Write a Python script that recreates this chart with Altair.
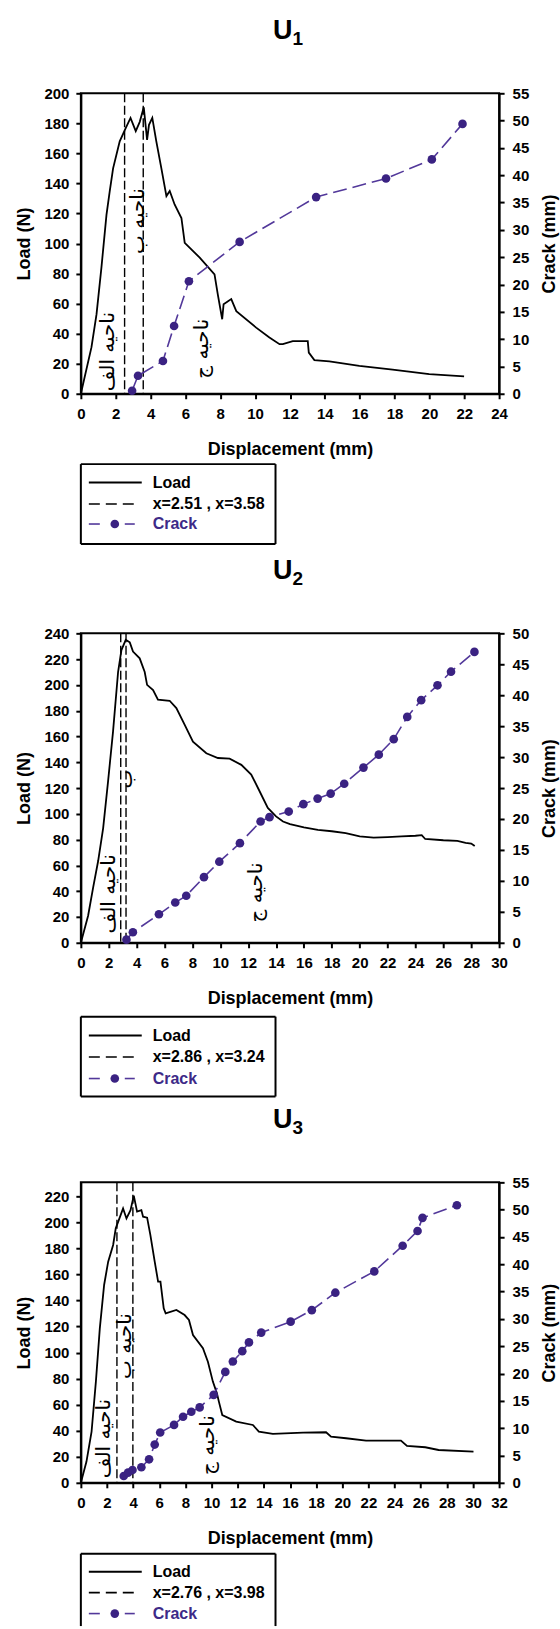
import altair as alt
import pandas as pd

# ---------------- data ----------------
# U1
u1_load_x = [0, 0.61, 0.90, 1.18, 1.47, 1.66, 1.85, 2.23, 2.58, 2.85, 3.15, 3.38, 3.61, 3.80, 3.91, 4.10,
             4.33, 4.62, 4.91, 5.10, 5.38, 5.77, 5.96, 6.82, 7.67, 7.86, 8.11, 8.19, 8.63, 8.92, 10.06,
             10.82, 11.40, 11.59, 12.16, 13.02, 13.08, 13.40, 14.26, 15.98, 17.89, 19.99, 21.99]
u1_load_y = [0, 31, 53, 84, 119, 135, 150, 168, 177, 183.6, 174.8, 181, 190.7, 169, 179, 183.6,
             168, 150, 131.6, 135, 126, 117, 100.5, 90.6, 79.5, 66, 49.6, 59.6, 63, 55, 44,
             37.4, 33, 33, 35, 35, 27.4, 22.4, 21.5, 18.6, 16, 13.1, 11.5]
u1_crack_x = [2.94, 3.28, 4.71, 5.35, 6.20, 9.11, 13.5, 17.51, 20.14, 21.9]
u1_crack_y = [0.55, 3.3, 6.0, 12.4, 20.6, 27.8, 36.0, 39.4, 42.9, 49.4]
u1_vlines = [2.51, 3.58]
u1_lbl_text = ["ناحیه الف", "ناحیه ب", "ناحیه ج"]
u1_lbl_x = [1.56, 3.28, 6.95]
u1_lbl_y = [28, 115, 30]

# U2
u2_load_x = [0, 0.52, 0.88, 1.24, 1.60, 1.95, 2.31, 2.67, 2.91, 3.22, 3.51, 3.74, 4.22, 4.58, 4.75, 5.18,
             5.53, 6.37, 6.85, 7.45, 8.04, 9.0, 9.83, 10.67, 11.51, 12.22, 12.82, 13.41, 14.0, 14.5,
             15.0, 16.0, 17.0, 18.0, 19.0, 20.0, 21.0, 22.0, 23.0, 24.0, 24.45, 24.7, 26.0, 27.0,
             27.6, 28.0, 28.25]
u2_load_y = [0, 21, 42.8, 63.4, 89, 125, 164, 210, 227, 234.9, 233, 225.8, 220.6, 210, 200, 196,
             188.5, 187.7, 182, 169, 156, 147, 143.3, 142.8, 138, 130.5, 117.5, 104.6, 98, 94,
             92, 89.5, 87.5, 86.5, 85, 82.5, 81.5, 82, 82.5, 83, 83.5, 80.5, 79.5, 79,
             77.5, 77, 75]
u2_crack_x = [3.27, 3.73, 5.6, 6.77, 7.56, 8.83, 9.93, 11.41, 12.89, 13.53, 14.91, 15.96, 16.98, 17.92,
              18.89, 20.27, 21.37, 22.44, 23.41, 24.41, 25.58, 26.55, 28.23]
u2_crack_y = [0.5, 1.7, 4.6, 6.5, 7.6, 10.6, 13.1, 16.1, 19.6, 20.3, 21.2, 22.4, 23.3, 24.1,
              25.7, 28.3, 30.4, 32.9, 36.5, 39.2, 41.6, 43.8, 47.0]
u2_vlines = [2.86, 3.24]
u2_lbl_text = ["ناحیه الف", "ب", "ناحیه ج"]
u2_lbl_x = [2.0, 3.23, 12.55]
u2_lbl_y = [38, 127, 39]

# U3
u3_load_x = [0, 0.43, 0.82, 1.15, 1.45, 1.78, 2.09, 2.47, 2.67, 3.23, 3.49, 3.80, 4.05, 4.30, 4.63, 4.76,
             5.07, 5.32, 5.65, 5.91, 6.09, 6.34, 6.49, 7.31, 7.94, 8.27, 8.58, 9.34, 9.72, 10.1, 10.41,
             10.56, 10.82, 11.89, 13.16, 13.62, 14.69, 17.0, 18.76, 19.14, 20.29, 21.82, 24.49, 24.95,
             26.35, 27.37, 30.04]
u3_load_y = [0, 16.3, 39.3, 77.7, 118.6, 151.9, 169.8, 182.6, 195.4, 210.7, 203, 209.4, 220.5, 208.2, 209.4, 204.3,
             203.6, 190.2, 169.8, 154.5, 154.5, 134, 130.1, 132.7, 128.8, 125, 113.5, 103.3, 93, 77.7, 68.7,
             62.3, 52, 47, 44.4, 39.3, 37.5, 38.5, 38.8, 35.5, 34.2, 32.4, 32.4, 28.3,
             27.3, 25.2, 24]
u3_crack_x = [3.28, 3.61, 3.95, 4.63, 5.22, 5.65, 6.07, 7.13, 7.82, 8.45, 9.09, 10.16, 11.05, 11.63, 12.35,
              12.86, 13.8, 16.05, 17.67, 19.47, 22.45, 24.62, 25.76, 26.14, 28.77]
u3_crack_y = [1.25, 1.86, 2.35, 2.84, 4.3, 7.0, 9.2, 10.6, 12.1, 13.0, 13.8, 16.1, 20.3, 22.2, 24.1,
              25.7, 27.5, 29.5, 31.6, 34.8, 38.7, 43.4, 46.1, 48.5, 50.8]
u3_vlines = [2.76, 3.98]
u3_lbl_text = ["ناحیه الف", "ناحیه ب", "ناحیه ج"]
u3_lbl_x = [1.76, 3.36, 9.7]
u3_lbl_y = [34, 105, 29]

# ---------------- styling ----------------
W = 419
FONT = "Liberation Sans"
CRACK_LINE = "#52389a"
CRACK_PT = "#3a2282"
CRACK_TXT = "#3d2a88"
one = pd.DataFrame({"k": [0]})


def panel(lx, ly, cx, cy, vlines, ltext, lxs, lys, xmax, ymax_l, ymax_r, lstep, h, sub, legend_lbl,
          leg_top, rows, cut_bottom=False):
    xs = alt.Scale(domain=[0, xmax], nice=False, zero=False)
    xaxis = alt.Axis(values=list(range(0, xmax + 1, 2)), title="Displacement (mm)")
    x_enc = alt.X("x:Q", scale=xs, axis=xaxis)

    yl = alt.Scale(domain=[0, ymax_l], nice=False, zero=False)
    yl_axis = alt.Axis(values=list(range(0, int(ymax_l) + 1, lstep)), title="Load (N)", orient="left")
    yr = alt.Scale(domain=[0, ymax_r], nice=False, zero=False)
    yr_axis = alt.Axis(values=list(range(0, ymax_r + 1, 5)), title="Crack (mm)", orient="right",
                       titleAngle=270, titleBaseline="top")

    load_df = pd.DataFrame({"x": lx, "v": ly})
    crack_df = pd.DataFrame({"x": cx, "v": cy})
    vl_df = pd.DataFrame({"x": vlines})
    lbl_df = pd.DataFrame({"x": lxs, "v": lys, "t": ltext})

    load = alt.Chart(load_df).mark_line(color="black", strokeWidth=1.8).encode(
        x=x_enc, y=alt.Y("v:Q", scale=yl, axis=yl_axis))
    vl = alt.Chart(vl_df).mark_rule(color="black", strokeDash=[9, 3.5], strokeWidth=1.4).encode(x=x_enc)
    lbl = alt.Chart(lbl_df).mark_text(font="DejaVu Sans", fontSize=20, angle=270, align="center",
                                      baseline="middle", color="black").encode(
        x=x_enc, y=alt.Y("v:Q", scale=yl, axis=yl_axis), text="t:N")

    # title (U + subscript)
    t_u = alt.Chart(one).mark_text(text="U", font=FONT, fontWeight="bold", fontSize=27, align="right",
                                   baseline="alphabetic").encode(x=alt.value(212), y=alt.value(-54))
    t_s = alt.Chart(one).mark_text(text=sub, font=FONT, fontWeight="bold", fontSize=19, align="left",
                                   baseline="alphabetic").encode(x=alt.value(212), y=alt.value(-48))

    # legend box
    top = h + leg_top
    bot = h + (143.5 if cut_bottom else leg_top + 80)
    box = []
    edges = [(0, 195, top, top), (0, 0, top, bot), (195, 195, top, bot)]
    if not cut_bottom:
        edges.append((0, 195, bot, bot))
    for (a, b, c, d) in edges:
        box.append(alt.Chart(one).mark_rule(color="black", strokeWidth=2).encode(
            x=alt.value(a), x2=alt.value(b), y=alt.value(c), y2=alt.value(d)))
    r1, r2, r3 = [h + r for r in rows]
    sym_load = alt.Chart(one).mark_rule(color="black", strokeWidth=2).encode(
        x=alt.value(8), x2=alt.value(61), y=alt.value(r1))
    sym_vl = alt.Chart(one).mark_rule(color="black", strokeWidth=1.6, strokeDash=[11, 6]).encode(
        x=alt.value(8), x2=alt.value(54), y=alt.value(r2))
    sym_c1 = alt.Chart(one).mark_rule(color=CRACK_LINE, strokeWidth=1.6).encode(
        x=alt.value(8), x2=alt.value(19), y=alt.value(r3))
    sym_c2 = alt.Chart(one).mark_rule(color=CRACK_LINE, strokeWidth=1.6).encode(
        x=alt.value(44), x2=alt.value(54), y=alt.value(r3))
    sym_cp = alt.Chart(one).mark_point(filled=True, color=CRACK_PT, size=75, opacity=1).encode(
        x=alt.value(34), y=alt.value(r3))
    txt_kw = dict(font=FONT, fontWeight="bold", fontSize=16, align="left", baseline="middle")
    tx1 = alt.Chart(one).mark_text(text="Load", color="black", **txt_kw).encode(
        x=alt.value(72), y=alt.value(r1))
    tx2 = alt.Chart(one).mark_text(text=legend_lbl, color="black", **txt_kw).encode(
        x=alt.value(72), y=alt.value(r2))
    tx3 = alt.Chart(one).mark_text(text="Crack", color=CRACK_TXT, **txt_kw).encode(
        x=alt.value(72), y=alt.value(r3))

    left = alt.layer(load, vl, lbl, t_u, t_s, *box, sym_load, sym_vl, sym_c1, sym_c2, sym_cp,
                     tx1, tx2, tx3)

    crack_line = alt.Chart(crack_df).mark_line(color=CRACK_LINE, strokeWidth=1.6, strokeDash=[14, 6]).encode(
        x=x_enc, y=alt.Y("v:Q", scale=yr, axis=yr_axis))
    crack_pts = alt.Chart(crack_df).mark_point(filled=True, color=CRACK_PT, size=75, opacity=1).encode(
        x=x_enc, y=alt.Y("v:Q", scale=yr, axis=yr_axis))
    right = alt.layer(crack_line, crack_pts)

    return alt.layer(left, right).resolve_scale(y="independent").properties(width=W, height=h)


p1 = panel(u1_load_x, u1_load_y, u1_crack_x, u1_crack_y, u1_vlines, u1_lbl_text, u1_lbl_x, u1_lbl_y,
           24, 200, 55, 20, 301, "1", "x=2.51 , x=3.58", 70.5, (89, 110.5, 130.5))
p2 = panel(u2_load_x, u2_load_y, u2_crack_x, u2_crack_y, u2_vlines, u2_lbl_text, u2_lbl_x, u2_lbl_y,
           30, 240, 50, 20, 310, "2", "x=2.86 , x=3.24", 74, (93, 114.5, 136))
p3 = panel(u3_load_x, u3_load_y, u3_crack_x, u3_crack_y, u3_vlines, u3_lbl_text, u3_lbl_x, u3_lbl_y,
           32, 230.7, 55, 20, 301, "3", "x=2.76 , x=3.98", 71, (89, 110, 131), cut_bottom=True)

chart = alt.vconcat(p1, p2, p3, spacing=240, bounds="flush").properties(
    padding={"left": 14, "top": 15, "right": 0, "bottom": 0},
    background="white",
).configure_view(stroke="black", strokeWidth=2).configure_axis(
    grid=False,
    domainColor="black", domainWidth=2,
    tickColor="black", tickWidth=2, tickSize=5,
    labelFont=FONT, labelFontWeight="bold", labelFontSize=15, labelColor="black",
    labelFlush=False,
    titleFont=FONT, titleFontWeight="bold", titleFontSize=18, titleColor="black",
).configure_axisX(labelPadding=8, titlePadding=19).configure_axisLeft(
    labelPadding=7, titlePadding=10).configure_axisRight(labelPadding=8, titlePadding=12)

chart.save("out.html", embed_options={"renderer": "svg", "actions": False})
